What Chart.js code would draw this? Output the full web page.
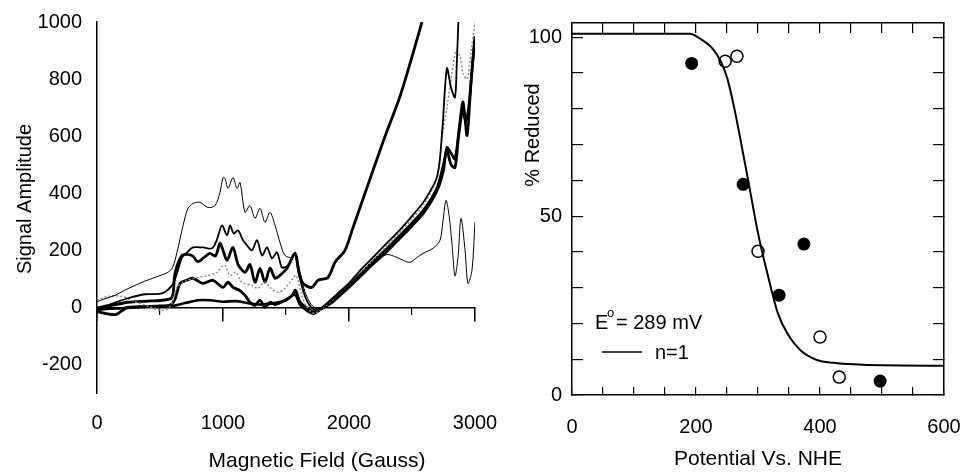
<!DOCTYPE html>
<html>
<head>
<meta charset="utf-8">
<script src="https://cdn.jsdelivr.net/npm/chart.js@4.4.1/dist/chart.umd.min.js"></script>
<style>
  html, body { margin: 0; padding: 0; background: #fff; }
  .wrap { position: relative; width: 961px; height: 472px; }
  #field { position: absolute; left: 0; top: 0; }
  #redox { position: absolute; left: 480px; top: 0; }
</style>
</head>
<body>
<div class="wrap">
  <canvas id="field" width="505" height="472"></canvas>
  <canvas id="redox" width="481" height="472"></canvas>
</div>
<script>
// =========================
// ======= DATA ============
//==========================

// left panel: [field (G), signal amplitude]
const thinTrace = [[0,20],[60,30],[143,42],[220,60],[302,77],[380,92],[460,105],[563,123],[600,140],[635,193],[683,287],[722,347],[762,364],[817,368],[881,350],[937,357],[976,403],[1000,455],[1016,452],[1040,417],[1079,455],[1111,417],[1135,438],[1175,333],[1214,357],[1254,312],[1294,347],[1333,298],[1373,333],[1413,287],[1452,228],[1492,182],[1548,175],[1579,189],[1611,123],[1650,55],[1700,10],[1750,-5],[1800,5],[1900,40],[2000,80],[2100,122],[2200,160],[2300,185],[2381,175],[2430,165],[2484,158],[2540,175],[2587,189],[2667,207],[2722,235],[2745,300],[2770,375],[2795,320],[2817,224],[2841,110],[2865,175],[2889,312],[2921,200],[2944,84],[2976,130],[3000,300]];
const mediumTrace = [[0,0],[100,10],[246,32],[381,46],[516,49],[595,77],[635,120],[675,175],[714,193],[762,210],[841,210],[913,207],[950,235],[992,287],[1032,252],[1056,287],[1085,259],[1119,270],[1159,235],[1195,215],[1230,200],[1270,235],[1310,182],[1349,210],[1389,172],[1429,193],[1468,140],[1516,147],[1571,185],[1600,120],[1650,40],[1700,0],[1750,-10],[1800,5],[1900,45],[2000,85],[2100,135],[2200,180],[2300,225],[2400,270],[2500,320],[2600,375],[2700,460],[2740,620],[2777,837],[2810,770],[2841,736],[2855,850],[2868,1000]];
const dottedTrace = [[0,25],[100,40],[200,38],[300,20],[400,5],[500,-10],[560,-5],[600,20],[635,70],[683,88],[794,105],[870,110],[952,123],[1000,147],[1016,147],[1056,112],[1100,123],[1150,88],[1230,77],[1278,67],[1330,88],[1380,67],[1437,53],[1492,67],[1556,102],[1580,112],[1620,50],[1660,5],[1720,-20],[1800,0],[1900,40],[2000,80],[2100,125],[2200,170],[2300,215],[2400,262],[2500,310],[2600,365],[2700,455],[2740,600],[2777,700],[2810,800],[2850,900],[2880,880],[2905,820],[2937,800],[2970,900],[3000,1000]];
const flatTrace = [[0,-8],[100,-5],[200,-3],[300,0],[400,3],[500,3],[600,5],[700,15],[800,25],[900,25],[1000,20],[1100,22],[1200,15],[1300,10],[1400,15],[1500,25],[1570,45],[1610,10],[1660,-10],[1720,-22],[1780,-5],[1850,12],[1900,30],[2000,70],[2100,112],[2200,155],[2300,195],[2400,240],[2500,285],[2600,335],[2700,410],[2750,480],[2777,560],[2810,540],[2841,520],[2880,650],[2905,720],[2937,602],[2970,800],[3000,950]];
const lowTrace = [[0,-15],[63,-21],[150,-25],[246,0],[400,3],[500,5],[580,8],[620,30],[659,84],[714,95],[762,102],[841,84],[920,95],[1000,70],[1040,88],[1080,70],[1130,60],[1175,42],[1214,18],[1254,7],[1294,25],[1333,0],[1373,18],[1413,10],[1492,25],[1548,42],[1575,60],[1610,20],[1660,0],[1720,-15],[1800,0],[1900,35],[2000,75],[2100,120],[2200,165],[2300,205],[2400,250],[2500,295],[2600,345],[2700,420],[2750,500],[2777,550],[2810,500],[2841,490],[2870,600],[2905,700],[2925,650],[2950,700],[2980,850],[3000,950]];
const steepTrace = [[0,-5],[100,5],[246,18],[400,22],[516,25],[595,35],[619,119],[675,182],[754,182],[800,160],[850,175],[897,189],[940,180],[976,224],[1000,200],[1032,165],[1079,210],[1120,150],[1175,123],[1214,150],[1254,88],[1294,137],[1333,88],[1373,137],[1413,102],[1452,112],[1508,137],[1571,190],[1600,130],[1635,84],[1706,70],[1754,95],[1833,105],[1889,158],[1968,200],[2032,280],[2143,420],[2270,580],[2405,740],[2508,890],[2579,1000]];

const fieldTicks = [0, 1000, 2000, 3000];
const amplitudeTicks = [-200, 0, 200, 400, 600, 800, 1000];

// right panel: redox titration
const fitPotential = [0, 100, 150, 190, 206, 226, 239, 250, 260, 271, 282, 290, 298, 306, 315, 323, 332, 347, 368, 395, 421, 500, 600];
const fitReduced = [101, 101, 101, 101, 99.7, 97, 93.6, 88.8, 81.6, 72.1, 62, 54.5, 47, 40.5, 34.1, 28.5, 22.9, 17.3, 12.6, 9.8, 9.0, 8.3, 8.2];
const filledPotential = [193, 276, 334, 374, 497];
const filledReduced = [92.7, 58.9, 27.9, 42.2, 3.9];
const openPotential = [247, 266, 300, 400, 431];
const openReduced = [93.3, 94.7, 40.2, 16.2, 5.0];

const potentialTicks = [0, 200, 400, 600];
const reducedTicks = [0, 50, 100];

// =========================
// ======= HELPERS =========
//==========================

Chart.defaults.font.family = "'Liberation Sans', Arial, sans-serif";
Chart.defaults.font.size = 20;
Chart.defaults.color = "#000";

const zip = (xs, ys) => xs.map((x, i) => ({ x: x, y: ys[i] }));

function trace(points, width, color, dash) {
  return {
    data: points,
    showLine: true,
    borderColor: color || "#000",
    borderWidth: width,
    borderDash: dash || [],
    pointRadius: 0,
    tension: 0.3
  };
}

// pin an axis box to a fixed size and drop the label overflow padding
function fixSize(w, h) {
  return function(s) {
    if (w !== null) s.width = w;
    if (h !== null) s.height = h;
    s.paddingLeft = s.paddingRight = s.paddingTop = s.paddingBottom = 0;
  };
}

// free text / key marks drawn on top of a chart
const textLabels = {
  id: "textLabels",
  afterDraw(chart, args, opts) {
    const ctx = chart.ctx;
    (opts.items || []).forEach(function(item) {
      ctx.save();
      ctx.fillStyle = "#000";
      ctx.strokeStyle = "#000";
      if (item.line) {
        ctx.lineWidth = 1.5;
        ctx.beginPath();
        ctx.moveTo(item.line[0], item.line[1]);
        ctx.lineTo(item.line[2], item.line[3]);
        ctx.stroke();
      } else {
        ctx.font = (item.size || 20) + "px 'Liberation Sans', Arial, sans-serif";
        ctx.textAlign = item.align || "left";
        ctx.textBaseline = item.baseline || "alphabetic";
        ctx.translate(item.x, item.y);
        if (item.rotate) ctx.rotate(item.rotate);
        ctx.fillText(item.text, 0, 0);
      }
      ctx.restore();
    });
  }
};

// =========================
// ======= LEFT CHART ======
//==========================

new Chart(document.getElementById("field"), {
  type: "scatter",
  data: {
    datasets: [
      trace(thinTrace, 1),
      trace(mediumTrace, 1.8),
      trace(dottedTrace, 1.5, "#8c8c8c", [2, 2]),
      trace(flatTrace, 2.6),
      trace(lowTrace, 2.8),
      trace(steepTrace, 2.8)
    ]
  },
  options: {
    responsive: false,
    animation: false,
    events: [],
    layout: { padding: { top: 22, right: 30, left: 0, bottom: 0 } },
    plugins: {
      legend: { display: false },
      tooltip: { enabled: false },
      textLabels: {
        items: [
          { text: "Magnetic Field (Gauss)", x: 317, y: 461, size: 21, align: "center", baseline: "middle" },
          { text: "Signal Amplitude", x: 25, y: 199, size: 20, align: "center", baseline: "middle", rotate: -Math.PI / 2 }
        ]
      }
    },
    scales: {
      x: {
        type: "linear",
        min: 0,
        max: 3000,
        afterFit: fixSize(null, 79),
        grid: { display: false, drawTicks: false },
        border: { display: false },
        ticks: {
          stepSize: 1000,
          padding: 18,
          autoSkip: false,
          maxRotation: 0,
          callback: v => (fieldTicks.includes(v) ? v : "")
        }
      },
      xZero: {
        axis: "x",
        type: "linear",
        position: { y: 0 },
        min: 0,
        max: 3000,
        afterFit: fixSize(null, null),
        ticks: { display: false, stepSize: 1000, autoSkip: false },
        grid: { drawOnChartArea: false, tickLength: 13, color: "#000", lineWidth: 1.5 },
        border: { display: true, color: "#000", width: 1.5 }
      },
      xMinor: {
        axis: "x",
        type: "linear",
        position: { y: 0 },
        min: 0,
        max: 3000,
        afterFit: fixSize(null, null),
        ticks: { display: false, stepSize: 500, autoSkip: false },
        grid: { drawOnChartArea: false, tickLength: 8, color: "#000", lineWidth: 1.2 },
        border: { display: false }
      },
      y: {
        min: -300,
        max: 1000,
        afterFit: fixSize(97, null),
        grid: { display: false, drawTicks: false },
        border: { display: true, color: "#000", width: 1.5 },
        ticks: {
          stepSize: 200,
          includeBounds: false,
          padding: 15,
          autoSkip: false,
          callback: v => (amplitudeTicks.includes(v) ? v : "")
        }
      }
    }
  },
  plugins: [textLabels]
});

// =========================
// ======= RIGHT CHART =====
//==========================

new Chart(document.getElementById("redox"), {
  type: "scatter",
  data: {
    datasets: [
      {
        data: zip(fitPotential, fitReduced),
        showLine: true,
        borderColor: "#000",
        borderWidth: 2,
        pointRadius: 0,
        cubicInterpolationMode: "monotone"
      },
      {
        data: zip(filledPotential, filledReduced),
        pointRadius: 6.5,
        backgroundColor: "#000",
        borderColor: "#000",
        borderWidth: 0
      },
      {
        data: zip(openPotential, openReduced),
        pointRadius: 6,
        backgroundColor: "#fff",
        borderColor: "#000",
        borderWidth: 1.5
      }
    ]
  },
  options: {
    responsive: false,
    animation: false,
    events: [],
    layout: { padding: { top: 23, right: 17, left: 0, bottom: 0 } },
    plugins: {
      legend: { display: false },
      tooltip: { enabled: false },
      textLabels: {
        items: [
          { text: "% Reduced", x: 53, y: 135, size: 20, align: "center", baseline: "middle", rotate: -Math.PI / 2 },
          { text: "E", x: 115, y: 329 },
          { text: "o", x: 127, y: 317, size: 13 },
          { text: "= 289 mV", x: 136, y: 329 },
          { line: [122, 352, 162, 352] },
          { text: "n=1", x: 175, y: 359 }
        ]
      }
    },
    scales: {
      x: {
        min: 0,
        max: 600,
        afterFit: fixSize(null, 77),
        grid: { drawOnChartArea: false, tickLength: -8, color: "#000", lineWidth: 1.2 },
        border: { color: "#000", width: 1.5 },
        ticks: {
          stepSize: 50,
          padding: 28,
          autoSkip: false,
          maxRotation: 0,
          callback: v => (potentialTicks.includes(v) ? v : "")
        },
        title: {
          display: true,
          text: "Potential Vs. NHE",
          padding: { top: 0, bottom: 0 },
          font: { size: 21 }
        }
      },
      x2: {
        axis: "x",
        position: "top",
        min: 0,
        max: 600,
        afterFit: fixSize(null, 0),
        grid: { drawOnChartArea: false, tickLength: -10, color: "#000", lineWidth: 1.2 },
        border: { color: "#000", width: 1.5 },
        ticks: { display: false, stepSize: 50, autoSkip: false }
      },
      y: {
        min: 0,
        max: 104,
        afterFit: fixSize(92, null),
        grid: { drawOnChartArea: false, tickLength: -11, color: "#000", lineWidth: 1.2 },
        border: { color: "#000", width: 1.5 },
        ticks: {
          stepSize: 10,
          includeBounds: false,
          padding: 21,
          autoSkip: false,
          callback: v => (reducedTicks.includes(v) ? v : "")
        }
      },
      y2: {
        axis: "y",
        position: "right",
        min: 0,
        max: 104,
        afterFit: fixSize(0, null),
        grid: { drawOnChartArea: false, tickLength: -11, color: "#000", lineWidth: 1.2 },
        border: { color: "#000", width: 1.5 },
        ticks: { display: false, stepSize: 10, includeBounds: false, autoSkip: false }
      }
    }
  },
  plugins: [textLabels]
});
</script>
</body>
</html>
